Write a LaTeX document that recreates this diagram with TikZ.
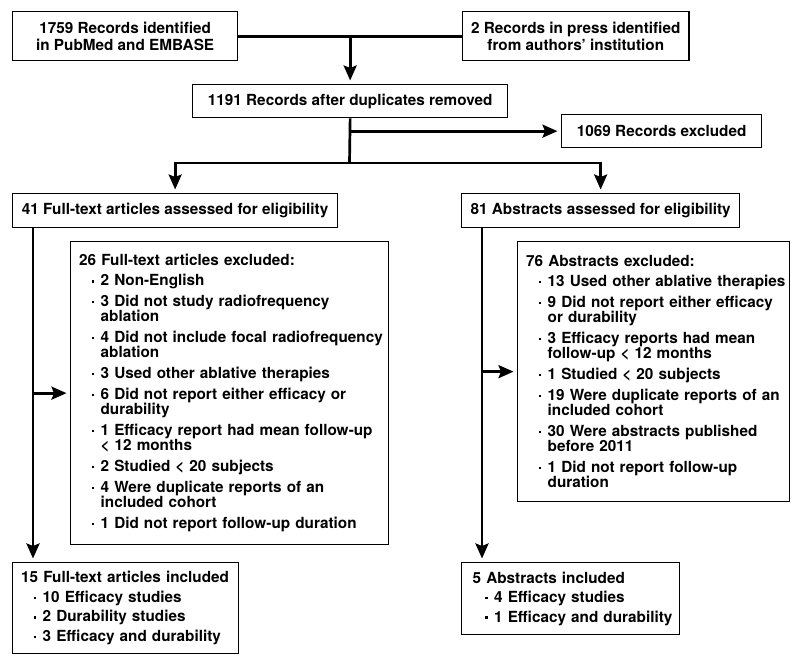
\documentclass[tikz,border=0pt]{standalone}
\usepackage{fontspec}
\setmainfont{TeX Gyre Heros}
\usetikzlibrary{arrows.meta}
\newcommand{\dotmark}{\raisebox{3.4pt}{\rule{2.4pt}{2.4pt}}}
\newcommand{\itm}[1]{\mbox{\hspace*{12.5pt}\makebox[9pt][l]{\dotmark}#1}}
\newcommand{\cnt}[1]{\mbox{\hspace*{21.5pt}#1}}
\newcommand{\gap}{\\[5.6pt]}
\begin{document}
\begin{tikzpicture}[x=1pt,y=1pt,
  box/.style={draw=black, line width=1.3pt, inner xsep=8.5pt, inner ysep=0pt, anchor=north west,
    font=\fontsize{15.3}{15.2}\selectfont\bfseries, text=black},
  cbox/.style={box, align=center},
  lbox/.style={box, align=left},
  conn/.style={line width=2.7pt, draw=black},
  arr/.style={conn, -{Stealth[length=15pt,width=13pt,inset=2.5pt]}, shorten >=3.5pt},
  arr2/.style={conn, {Stealth[length=15pt,width=13pt,inset=2.5pt]}-{Stealth[length=15pt,width=13pt,inset=2.5pt]}, shorten >=3.5pt, shorten <=3.5pt}
]
\useasboundingbox (0,0) rectangle (800,-664);

\node[cbox, minimum width=225pt, minimum height=49pt] (A) at (12,-11)
  {1759 Records identified\\[1.5pt]in PubMed and EMBASE};
\node[cbox, minimum width=225pt, minimum height=49pt] (B) at (462,-11)
  {2 Records in press identified\\[1.5pt]from authors’ institution};
\node[cbox, minimum width=315pt, minimum height=33pt] (C) at (192,-84)
  {1191 Records after duplicates removed};
\node[cbox, minimum width=200pt, minimum height=33pt] (D) at (561,-114)
  {1069 Records excluded};
\node[cbox, minimum width=325pt, minimum height=34pt] (E) at (12,-193)
  {41 Full-text articles assessed for eligibility};
\node[cbox, minimum width=278pt, minimum height=34pt] (F) at (461,-193)
  {81 Abstracts assessed for eligibility};

\node[lbox, text width=301pt, minimum height=303pt] (H) at (70,-241)
  {\mbox{26 Full-text articles excluded:}\\[4.8pt]
   \itm{2 Non-English}\gap
   \itm{3 Did not study radiofrequency}\\
   \cnt{ablation}\gap
   \itm{4 Did not include focal radiofrequency}\\
   \cnt{ablation}\gap
   \itm{3 Used other ablative therapies}\gap
   \itm{6 Did not report either efficacy or}\\
   \cnt{durability}\gap
   \itm{1 Efficacy report had mean follow-up}\\
   \cnt{< 12 months}\gap
   \itm{2 Studied < 20 subjects}\gap
   \itm{4 Were duplicate reports of an}\\
   \cnt{included cohort}\gap
   \itm{1 Did not report follow-up duration}};

\node[lbox, text width=255pt, minimum height=260pt] (I) at (517,-241)
  {\mbox{76 Abstracts excluded:}\\[4.8pt]
   \itm{13 Used other ablative therapies}\gap
   \itm{9 Did not report either efficacy}\\
   \cnt{or durability}\gap
   \itm{3 Efficacy reports had mean}\\
   \cnt{follow-up < 12 months}\gap
   \itm{1 Studied < 20 subjects}\gap
   \itm{19 Were duplicate reports of an}\\
   \cnt{included cohort}\gap
   \itm{30 Were abstracts published}\\
   \cnt{before 2011}\gap
   \itm{1 Did not report follow-up}\\
   \cnt{duration}};

\node[lbox, text width=209pt, minimum height=91pt] (G) at (12,-562)
  {\mbox{15 Full-text articles included}\\[4.3pt]
   \itm{10 Efficacy studies}\\[4.3pt]
   \itm{2 Durability studies}\\[4.3pt]
   \itm{3 Efficacy and durability}};

\node[lbox, inner xsep=11pt, text width=196pt, minimum height=72pt] (J) at (461,-562)
  {\mbox{5 Abstracts included}\\[4.3pt]
   \itm{4 Efficacy studies}\\[4.3pt]
   \itm{1 Efficacy and durability}};

\coordinate (split) at (349.5,-163);
\coordinate (Lx) at (33,0);
\coordinate (Rx) at (482,0);

\draw[conn] (A.east) -- (B.west);
\draw[arr] (C.north |- A.east) -- (C.north);
\draw[conn] (C.south) -- (split);
\draw[arr] (C.south |- D.west) -- (D.west);
\draw[arr2] (E.north) -- (E.north |- split) -- (F.north |- split) -- (F.north);
\draw[arr] (E.south -| Lx) -- (G.north -| Lx);
\draw[arr] (H.west -| Lx) -- (H.west);
\draw[arr] (F.south -| Rx) -- (J.north -| Rx);
\draw[arr] (I.west -| Rx) -- (I.west);
\end{tikzpicture}
\end{document}
